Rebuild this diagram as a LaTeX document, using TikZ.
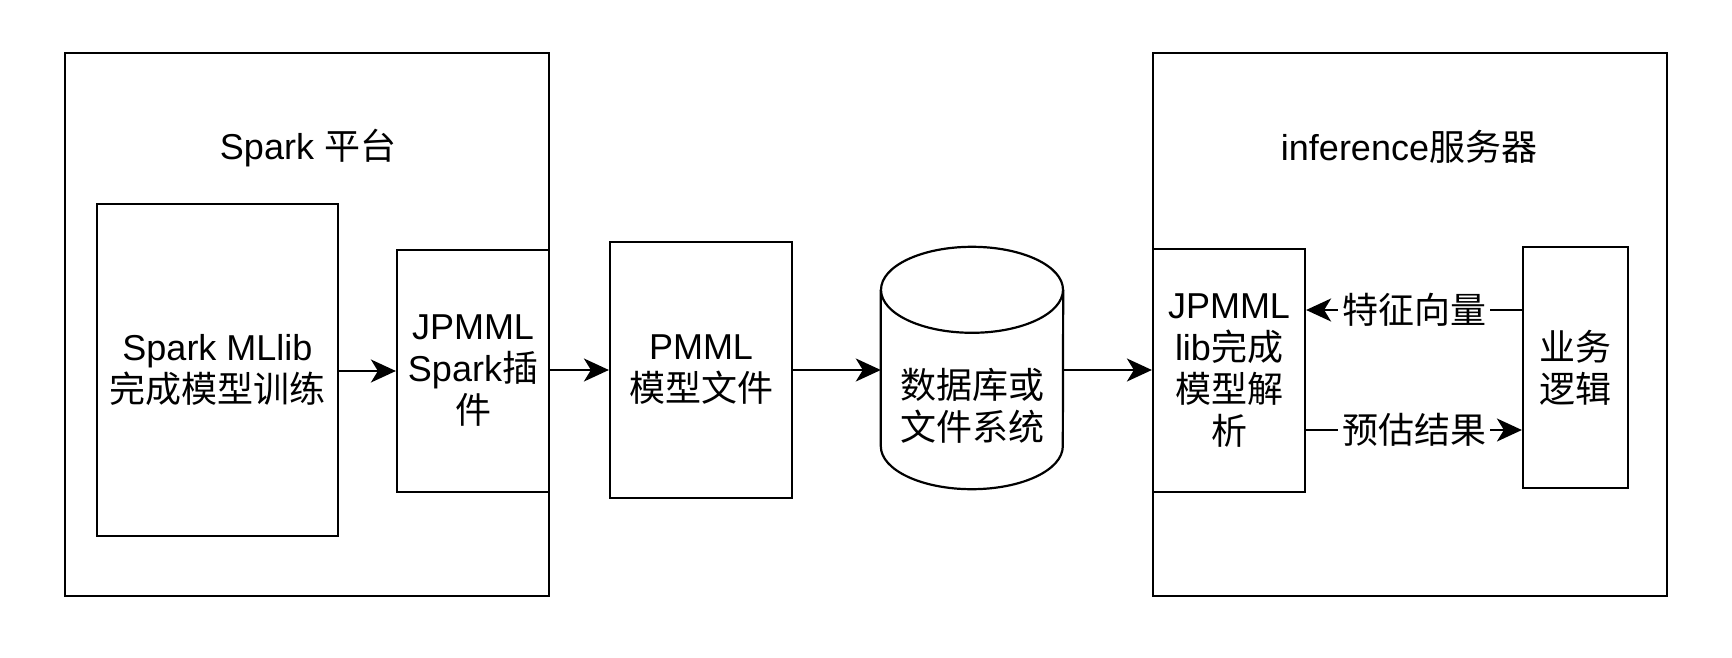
\documentclass[tikz,border=0pt]{standalone}
\usepackage{fontspec}
\setmainfont{Liberation Sans}
\newfontfamily\cjk{Noto Sans CJK SC}
\usetikzlibrary{arrows.meta}
\begin{document}
\begin{tikzpicture}[x=1pt,y=-1pt,
  ln/.style={line width=2.2pt, draw=black},
  box/.style={rectangle, ln, inner sep=0pt, align=center, font=\fontsize{36}{42}\selectfont},
  ghost/.style={rectangle, inner sep=0pt},
  txt/.style={inner sep=0pt, align=center, font=\fontsize{36}{42}\selectfont},
  arr/.style={ln, -{Stealth[length=25pt, width=23pt, inset=7pt]}},
  lbl/.style={fill=white, inner xsep=4pt, inner ysep=2pt, font=\fontsize{36}{42}\selectfont}]
\useasboundingbox (0,0) rectangle (1732,658);
\fill[white] (0,0) rectangle (1732,658);

% outer containers
\node[box, minimum width=484pt, minimum height=543pt] (spark) at (307,324.5) {};
\node[txt] (sparklbl) at (308,148) {Spark {\cjk 平台}};
\node[box, minimum width=514pt, minimum height=543pt] (inference) at (1410,324.5) {};
\node[txt] (inflbl) at (1409,147) {inference{\cjk 服务器}};

% inner boxes
\node[box, minimum width=241pt, minimum height=332pt] (mllib) at (217.5,370) {Spark MLlib\\{\cjk 完成模型训练}};
\node[box, minimum width=152pt, minimum height=242pt] (jps) at (473,371) {JPMML\\Spark{\cjk 插}\\{\cjk 件}};
\node[box, minimum width=182pt, minimum height=256pt] (pmml) at (701,370) {PMML\\{\cjk 模型文件}};
\node[box, minimum width=152pt, minimum height=243pt] (jpl) at (1229,370.5) {JPMML\\lib{\cjk 完成}\\{\cjk 模型解}\\{\cjk 析}};
\node[box, minimum width=105pt, minimum height=241pt] (biz) at (1575.5,367.5) {{\cjk 业务}\\{\cjk 逻辑}};

% cylinder
\node[ghost, minimum width=182pt, minimum height=242pt] (db) at (972,368) {};
\draw[ln] ([yshift=-43pt]db.north west) -- ([yshift=43pt]db.south west)
  arc[start angle=180, end angle=360, x radius=91pt, y radius=43pt]
  -- ([yshift=-43pt]db.north east);
\draw[ln] ([yshift=-43pt]db.north) ellipse[x radius=91pt, y radius=43pt];
\node[txt] (dbtxt) at ([yshift=-38pt]db.center) {{\cjk 数据库或}\\{\cjk 文件系统}};

% connectors
\draw[arr] (mllib.east |- 0,371) -- (jps.west |- 0,371);
\draw[arr] (jps.east |- 0,370) -- (pmml.west |- 0,370);
\draw[arr] (pmml.east |- 0,370) -- (db.west |- 0,370);
\draw[arr] (db.east |- 0,370) -- (jpl.west |- 0,370);
\draw[arr] (biz.west |- 0,310) -- node[lbl] {{\cjk 特征向量}} (jpl.east |- 0,310);
\draw[arr] (jpl.east |- 0,430) -- node[lbl] {{\cjk 预估结果}} (biz.west |- 0,430);
\end{tikzpicture}
\end{document}
